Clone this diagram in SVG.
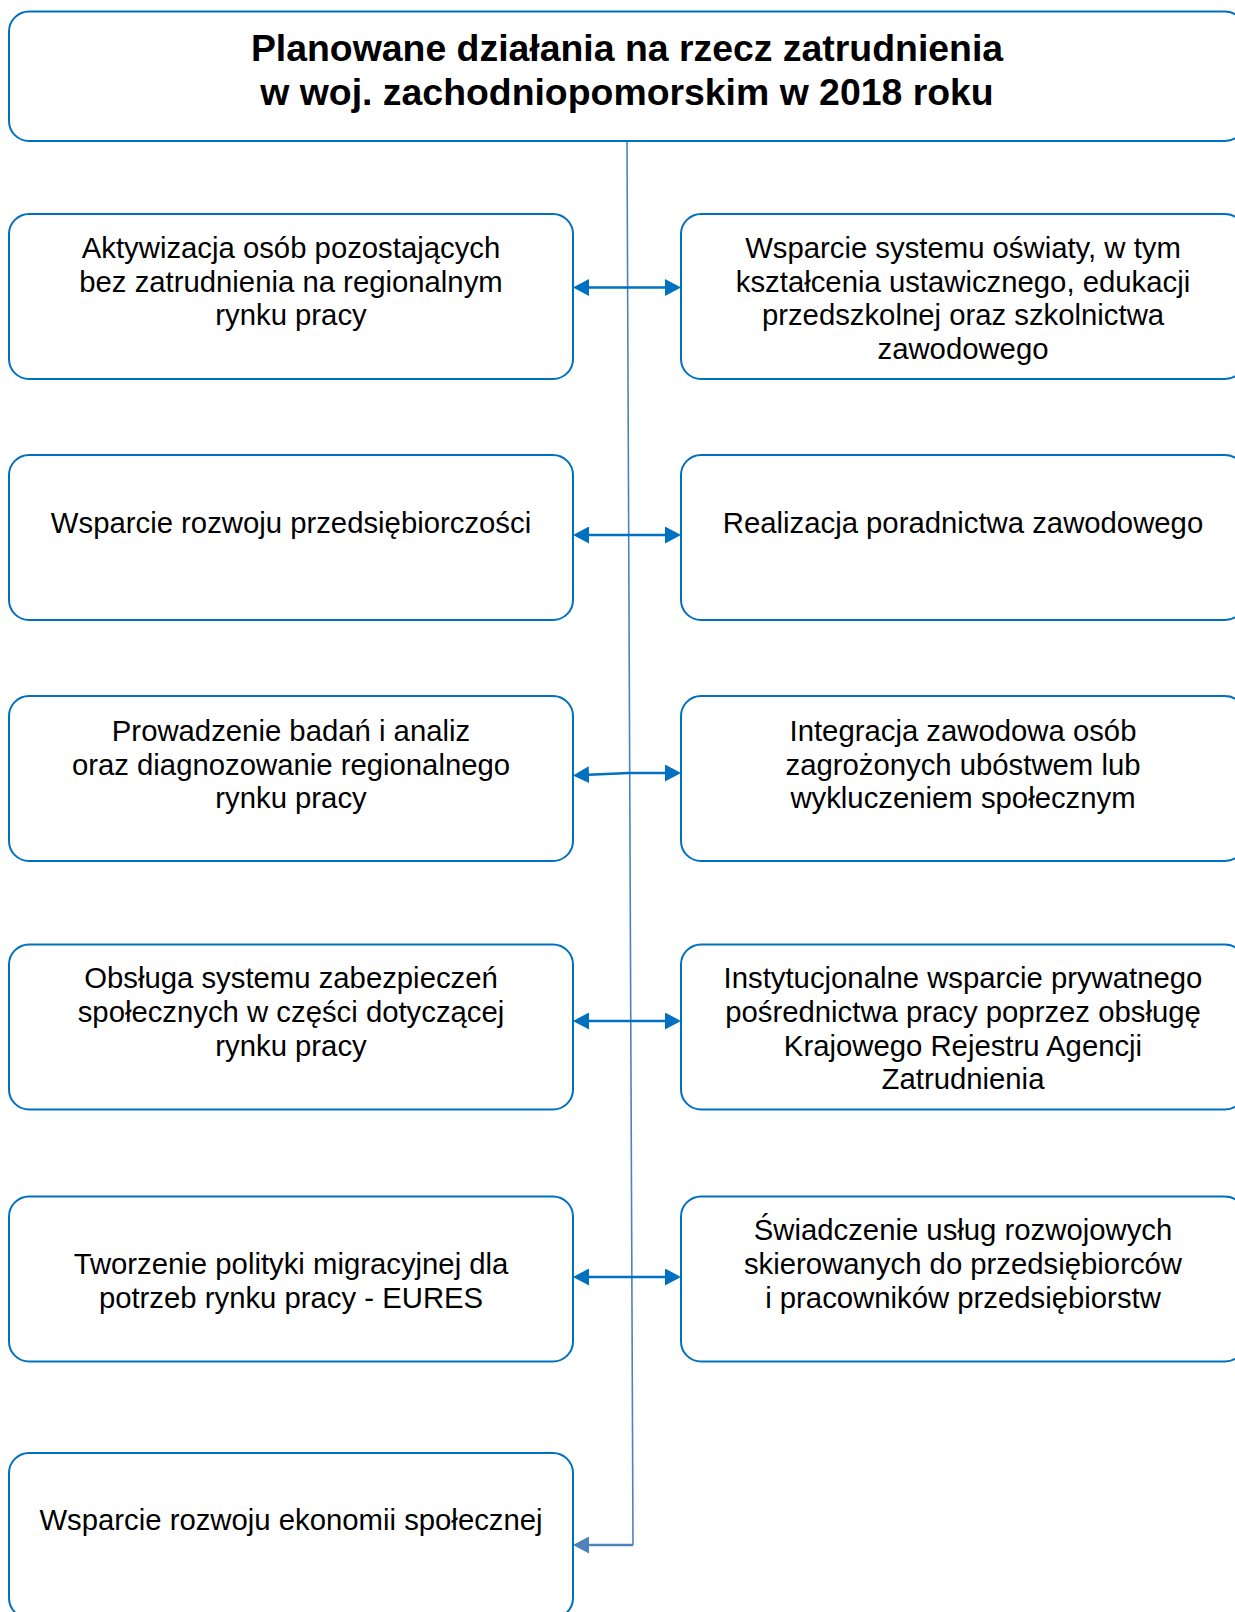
<svg xmlns="http://www.w3.org/2000/svg" width="1235" height="1612" viewBox="0 0 1235 1612">
<style>
.box{fill:#fff;stroke:#0070C0;stroke-width:2}
.t{font-family:"Liberation Sans",Arial,sans-serif;font-size:29.3px;fill:#000;text-anchor:middle}
.title{font-family:"Liberation Sans",Arial,sans-serif;font-size:37.4px;font-weight:bold;fill:#000;text-anchor:middle}
.arr{fill:none;stroke:#0070C0;stroke-width:2.5;marker-start:url(#ah);marker-end:url(#ah)}
.spine{fill:none;stroke:#4F81BD;stroke-width:1.6}
.last{fill:none;stroke:#4F81BD;stroke-width:2.5;marker-end:url(#ah2)}
</style>
<defs>
<marker id="ah" markerUnits="userSpaceOnUse" markerWidth="16" markerHeight="17" viewBox="0 0 16 17" refX="6" refY="8.5" orient="auto-start-reverse"><path d="M0,0 L16,8.5 L0,17 z" fill="#0070C0"/></marker>
<marker id="ah2" markerUnits="userSpaceOnUse" markerWidth="16" markerHeight="17" viewBox="0 0 16 17" refX="6" refY="8.5" orient="auto"><path d="M0,0 L16,8.5 L0,17 z" fill="#4F81BD"/></marker>
</defs>
<g id="connectors">
<path class="spine" d="M627,141 L633,1545"/>
<path class="arr" d="M583,287.5 L671,287.5"/>
<path class="arr" d="M583,535 L671,535"/>
<path class="arr" d="M583,775 L629,773 L671,773"/>
<path class="arr" d="M583,1021 L671,1021"/>
<path class="arr" d="M583,1277 L671,1277"/>
<path class="last" d="M633,1545 L583,1545"/>
</g>
<g id="title">
<rect class="box" x="9" y="11.5" width="1236" height="129.5" rx="20"/>
<text class="title" x="627" y="60.5">Planowane działania na rzecz zatrudnienia</text>
<text class="title" x="627" y="104.5">w woj. zachodniopomorskim w 2018 roku</text>
</g>
<g id="n1">
<rect class="box" x="9" y="214" width="564" height="165" rx="20"/>
<text class="t" x="291" y="258">Aktywizacja osób pozostających</text>
<text class="t" x="291" y="291.5">bez zatrudnienia na regionalnym</text>
<text class="t" x="291" y="325">rynku pracy</text>
</g>
<g id="n2">
<rect class="box" x="681" y="214" width="564" height="165" rx="20"/>
<text class="t" x="963" y="258">Wsparcie systemu oświaty, w tym</text>
<text class="t" x="963" y="291.5">kształcenia ustawicznego, edukacji</text>
<text class="t" x="963" y="325">przedszkolnej oraz szkolnictwa</text>
<text class="t" x="963" y="359">zawodowego</text>
</g>
<g id="n3">
<rect class="box" x="9" y="455" width="564" height="165" rx="20"/>
<text class="t" x="291" y="532.5">Wsparcie rozwoju przedsiębiorczości</text>
</g>
<g id="n4">
<rect class="box" x="681" y="455" width="564" height="165" rx="20"/>
<text class="t" x="963" y="532.5">Realizacja poradnictwa zawodowego</text>
</g>
<g id="n5">
<rect class="box" x="9" y="696" width="564" height="165" rx="20"/>
<text class="t" x="291" y="740.5">Prowadzenie badań i analiz</text>
<text class="t" x="291" y="774.5">oraz diagnozowanie regionalnego</text>
<text class="t" x="291" y="808">rynku pracy</text>
</g>
<g id="n6">
<rect class="box" x="681" y="696" width="564" height="165" rx="20"/>
<text class="t" x="963" y="740.5">Integracja zawodowa osób</text>
<text class="t" x="963" y="774.5">zagrożonych ubóstwem lub</text>
<text class="t" x="963" y="808">wykluczeniem społecznym</text>
</g>
<g id="n7">
<rect class="box" x="9" y="944.5" width="564" height="165" rx="20"/>
<text class="t" x="291" y="988">Obsługa systemu zabezpieczeń</text>
<text class="t" x="291" y="1022">społecznych w części dotyczącej</text>
<text class="t" x="291" y="1056">rynku pracy</text>
</g>
<g id="n8">
<rect class="box" x="681" y="944.5" width="564" height="165" rx="20"/>
<text class="t" x="963" y="988">Instytucjonalne wsparcie prywatnego</text>
<text class="t" x="963" y="1022">pośrednictwa pracy poprzez obsługę</text>
<text class="t" x="963" y="1056">Krajowego Rejestru Agencji</text>
<text class="t" x="963" y="1089">Zatrudnienia</text>
</g>
<g id="n9">
<rect class="box" x="9" y="1196.5" width="564" height="165" rx="20"/>
<text class="t" x="291" y="1274">Tworzenie polityki migracyjnej dla</text>
<text class="t" x="291" y="1308">potrzeb rynku pracy - EURES</text>
</g>
<g id="n10">
<rect class="box" x="681" y="1196.5" width="564" height="165" rx="20"/>
<text class="t" x="963" y="1240">Świadczenie usług rozwojowych</text>
<text class="t" x="963" y="1274">skierowanych do przedsiębiorców</text>
<text class="t" x="963" y="1308">i pracowników przedsiębiorstw</text>
</g>
<g id="n11">
<rect class="box" x="9" y="1453" width="564" height="165" rx="20"/>
<text class="t" x="291" y="1530">Wsparcie rozwoju ekonomii społecznej</text>
</g>
</svg>
